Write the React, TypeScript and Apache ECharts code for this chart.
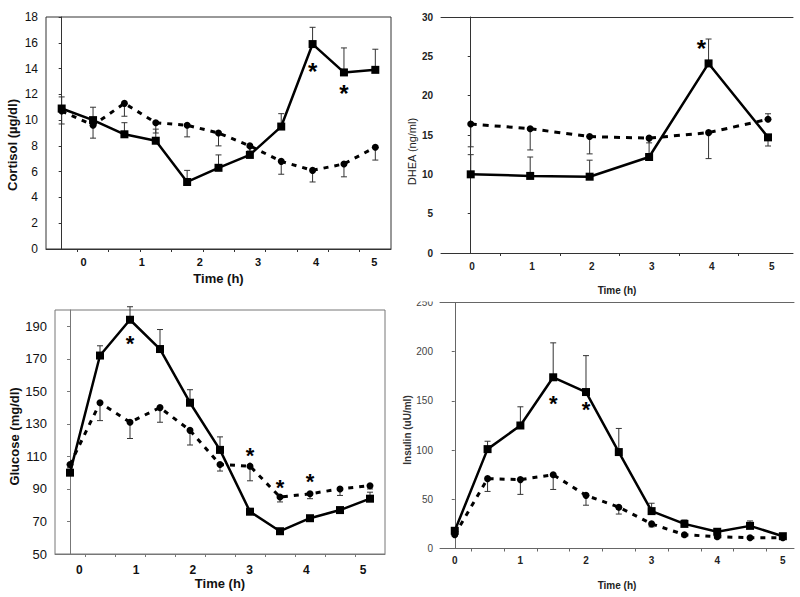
import React, { useEffect, useRef } from "react";
import * as echarts from "echarts";

// ---------- data ----------
const timeLabels = [0, 1, 2, 3, 4, 5];

// Cortisol (µg/dl), 11 samples
const cortisolSolid = [10.9, 10.0, 8.9, 8.4, 5.2, 6.3, 7.3, 9.5, 15.9, 13.7, 13.9];
const cortisolSolidErr = [11.8, 11.0, 9.8, 9.3, 6.1, 7.3, 7.9, 10.5, 17.2, 15.6, 15.5];
const cortisolDotted = [10.7, 9.6, 11.3, 9.8, 9.6, 9.0, 8.0, 6.8, 6.1, 6.6, 7.9];
const cortisolDottedErr = [9.7, 8.6, 10.3, 9.0, 8.7, 8.0, 7.6, 5.8, 5.2, 5.6, 6.9];
const cortisolStars = [[8, 14.2], [9, 12.5]];

// DHEA (ng/ml), 6 samples (hourly)
const dheaSolid = [10.0, 9.8, 9.7, 12.2, 24.1, 14.7];
const dheaSolidErr = [12.5, 12.2, 11.8, 14.4, 27.2, 13.6];
const dheaDotted = [16.4, 15.8, 14.8, 14.6, 15.3, 17.0];
const dheaDottedErr = [13.5, 13.1, 12.6, 14.0, 12.0, 17.7];
const dheaStars = [[3.88, 26.7]];

// Glucose (mg/dl), 11 samples
const glucoseSolid = [100, 172, 194, 176, 143, 114, 76, 64, 72, 77, 84];
const glucoseSolidErr = [101, 178, 202, 188, 151, 122, 78, 65, 73, 78, 88];
const glucoseDotted = [105, 143, 131, 140, 126, 105, 104, 85, 87, 90, 92];
const glucoseDottedErr = [103, 132, 121, 131, 117, 101, 95, 82, 84, 86, 90];
const glucoseStars = [[2, 183], [6, 114], [7, 94], [8, 98]];
const glucoseTicks = [50, 70, 90, 110, 130, 150, 170, 190];

// Insulin (uU/ml), 11 samples (every 0.5 h)
const insulinSolid = [18, 101, 125, 174, 159, 98, 38, 25, 17, 23, 12.5];
const insulinSolidErr = [20, 109, 144, 209, 196, 122, 46, 29, 20, 28, 14];
const insulinDotted = [14, 71, 70, 75, 54, 42, 25, 14, 12, 11, 11];
const insulinDottedErr = [13, 58, 55, 60, 44, 35, 22, 12, 10, 10, 10];
const insulinStars = [[3, 153], [4, 147]];

const FONT = "Liberation Sans, Arial, sans-serif";

type Panel = {
  grid: any;
  frame: "box" | "open";
  frameColor: string;
  dataRange: [number, number];
  hourRange: [number, number];
  yMin: number;
  yMax: number;
  yInterval?: number;
  yCustom?: number[];
  yName: string;
  yNameStyle: any;
  yNameGap: number;
  yLabel: any;
  xLabel: any;
  xNameStyle: any;
  xNameGap: number;
  solid: number[];
  solidErr: number[];
  dotted: number[];
  dottedErr: number[];
  stars: number[][];
  starSize: number;
  dash: number[];
};

const panels: Panel[] = [
  {
    grid: { left: 46, top: 17, width: 345, height: 232 },
    frame: "box",
    frameColor: "#333",
    dataRange: [-0.5, 10.5],
    hourRange: [-0.646, 5.287],
    yMin: 0,
    yMax: 18,
    yInterval: 2,
    yName: "Cortisol (µg/dl)",
    yNameStyle: { fontSize: 13, fontWeight: "bold", color: "#111", padding: [0, 24, 0, 0] },
    yNameGap: 27,
    yLabel: { fontSize: 12, color: "#111", margin: 8 },
    xLabel: { fontSize: 11, fontWeight: "bold", color: "#111", margin: 7 },
    xNameStyle: { fontSize: 13, fontWeight: "bold", color: "#111" },
    xNameGap: 23,
    solid: cortisolSolid,
    solidErr: cortisolSolidErr,
    dotted: cortisolDotted,
    dottedErr: cortisolDottedErr,
    stars: cortisolStars,
    starSize: 24,
    dash: [5, 6],
  },
  {
    grid: { left: 441, top: 17, width: 352, height: 236 },
    frame: "open",
    frameColor: "#333",
    dataRange: [-0.5, 5.42],
    hourRange: [-0.517, 5.355],
    yMin: 0,
    yMax: 30,
    yInterval: 5,
    yName: "DHEA (ng/ml)",
    yNameStyle: { fontSize: 11, color: "#222", padding: [0, 33, 0, 0] },
    yNameGap: 22,
    yLabel: { fontSize: 10, fontWeight: "bold", color: "#222", margin: 8 },
    xLabel: { fontSize: 10, fontWeight: "bold", color: "#222", margin: 8 },
    xNameStyle: { fontSize: 10, fontWeight: "bold", color: "#222" },
    xNameGap: 32,
    solid: dheaSolid,
    solidErr: dheaSolidErr,
    dotted: dheaDotted,
    dottedErr: dheaDottedErr,
    stars: dheaStars,
    starSize: 24,
    dash: [6, 6],
  },
  {
    grid: { left: 55, top: 310, width: 330, height: 244 },
    frame: "box",
    frameColor: "#777",
    dataRange: [-0.5, 10.5],
    hourRange: [-0.43, 5.385],
    yMin: 50,
    yMax: 200,
    yCustom: glucoseTicks,
    yName: "Glucose (mg/dl)",
    yNameStyle: { fontSize: 13, fontWeight: "bold", color: "#111", padding: [0, 9, 0, 0] },
    yNameGap: 33,
    yLabel: { fontSize: 13, color: "#111", margin: 8 },
    xLabel: { fontSize: 12, fontWeight: "bold", color: "#111", margin: 10 },
    xNameStyle: { fontSize: 13, fontWeight: "bold", color: "#111" },
    xNameGap: 23,
    solid: glucoseSolid,
    solidErr: glucoseSolidErr,
    dotted: glucoseDotted,
    dottedErr: glucoseDottedErr,
    stars: glucoseStars,
    starSize: 22,
    dash: [5, 6],
  },
  {
    grid: { left: 440, top: 302.5, width: 354, height: 246 },
    frame: "open",
    frameColor: "#666",
    dataRange: [-0.45, 10.34],
    hourRange: [-0.225, 5.17],
    yMin: 0,
    yMax: 250,
    yInterval: 50,
    yName: "Insulin (uU/ml)",
    yNameStyle: { fontSize: 10, fontWeight: "bold", color: "#333", padding: [0, 9, 0, 0] },
    yNameGap: 24,
    yLabel: { fontSize: 10, color: "#444", margin: 7 },
    xLabel: { fontSize: 10, fontWeight: "bold", color: "#222", margin: 7 },
    xNameStyle: { fontSize: 10, fontWeight: "bold", color: "#222" },
    xNameGap: 32,
    solid: insulinSolid,
    solidErr: insulinSolidErr,
    dotted: insulinDotted,
    dottedErr: insulinDottedErr,
    stars: insulinStars,
    starSize: 22,
    dash: [5, 6],
  },
];

const errorRender = (params: any, api: any) => {
  const x = api.value(0);
  const v = api.value(1);
  const c = api.value(2);
  const p1 = api.coord([x, v]);
  const p2 = api.coord([x, c]);
  const w = 3;
  const style = { stroke: "#333", lineWidth: 1 };
  return {
    type: "group",
    children: [
      { type: "line", shape: { x1: p1[0], y1: p1[1], x2: p2[0], y2: p2[1] }, style },
      { type: "line", shape: { x1: p2[0] - w, y1: p2[1], x2: p2[0] + w, y2: p2[1] }, style },
    ],
  };
};

function buildOption() {
  const grid: any[] = [];
  const xAxis: any[] = [];
  const yAxis: any[] = [];
  const series: any[] = [];

  panels.forEach((p, gi) => {
    grid.push({
      ...p.grid,
      show: p.frame === "box",
      borderColor: p.frameColor,
      borderWidth: 1,
      backgroundColor: "transparent",
      containLabel: false,
    });
    const n = p.solid.length;
    const boundaries = Array.from({ length: n - 1 }, (_, i) => i + 0.5);
    const dataAxisIndex = xAxis.length;
    xAxis.push({
      gridIndex: gi,
      type: "value",
      position: "bottom",
      min: p.dataRange[0],
      max: p.dataRange[1],
      axisLine: { show: true, lineStyle: { color: p.frameColor, width: 1 } },
      axisTick: { show: true, customValues: boundaries, length: 3, lineStyle: { color: p.frameColor } },
      axisLabel: { show: false },
      splitLine: { show: false },
    });
    xAxis.push({
      gridIndex: gi,
      type: "value",
      position: "bottom",
      min: p.hourRange[0],
      max: p.hourRange[1],
      axisLine: { show: false },
      axisTick: { show: false },
      axisLabel: { ...p.xLabel, fontFamily: FONT, customValues: timeLabels },
      splitLine: { show: false },
      name: "Time (h)",
      nameLocation: "middle",
      nameGap: p.xNameGap,
      nameTextStyle: { ...p.xNameStyle, fontFamily: FONT },
    });
    if (p.frame === "open") {
      xAxis.push({
        gridIndex: gi,
        type: "value",
        position: "top",
        min: 0,
        max: 1,
        axisLine: { show: true, lineStyle: { color: p.frameColor, width: 1 } },
        axisTick: { show: false },
        axisLabel: { show: false },
        splitLine: { show: false },
      });
    }
    const yIndex = yAxis.length;
    yAxis.push({
      gridIndex: gi,
      type: "value",
      min: p.yMin,
      max: p.yMax,
      interval: p.yInterval,
      axisLine: { show: true, lineStyle: { color: p.frameColor, width: 1 } },
      axisTick: {
        show: true,
        length: 3,
        lineStyle: { color: p.frameColor },
        ...(p.yCustom ? { customValues: p.yCustom } : {}),
      },
      axisLabel: {
        ...p.yLabel,
        fontFamily: FONT,
        ...(p.yCustom ? { customValues: p.yCustom } : {}),
      },
      splitLine: { show: false },
      name: p.yName,
      nameLocation: "middle",
      nameRotate: 90,
      nameGap: p.yNameGap,
      nameTextStyle: { ...p.yNameStyle, fontFamily: FONT },
    });

    const base = { xAxisIndex: dataAxisIndex, yAxisIndex: yIndex };
    series.push({
      ...base,
      type: "custom",
      renderItem: errorRender,
      z: 1,
      data: p.dotted.map((v, i) => [i, v, p.dottedErr[i]]),
    });
    series.push({
      ...base,
      type: "custom",
      renderItem: errorRender,
      z: 1,
      data: p.solid.map((v, i) => [i, v, p.solidErr[i]]),
    });
    series.push({
      ...base,
      type: "line",
      z: 2,
      symbol: "circle",
      symbolSize: 7,
      itemStyle: { color: "#000" },
      lineStyle: { color: "#000", width: 3, type: p.dash },
      data: p.dotted.map((v, i) => [i, v]),
    });
    series.push({
      ...base,
      type: "line",
      z: 3,
      symbol: "rect",
      symbolSize: 8,
      itemStyle: { color: "#000" },
      lineStyle: { color: "#000", width: 2.5 },
      data: p.solid.map((v, i) => [i, v]),
    });
    series.push({
      ...base,
      type: "scatter",
      z: 4,
      symbol: "circle",
      symbolSize: 1,
      itemStyle: { color: "rgba(255,255,255,0)", opacity: 1 },
      label: {
        show: true,
        position: "inside",
        formatter: "*",
        fontSize: p.starSize,
        fontWeight: "bold",
        fontFamily: FONT,
        color: "#000",
        opacity: 1,
        textBorderWidth: 0,
        offset: [0, p.starSize * 0.25],
      },
      data: p.stars,
    });
  });

  return {
    animation: false,
    backgroundColor: "#fff",
    grid,
    xAxis,
    yAxis,
    series,
    graphic: [
      {
        type: "rect",
        z: 100,
        shape: { x: 400, y: 288, width: 38, height: 13.5 },
        style: { fill: "#fff" },
      },
    ],
  };
}

export default function App() {
  const ref = useRef<HTMLDivElement>(null);
  useEffect(() => {
    if (!ref.current) return;
    const chart = echarts.init(ref.current, undefined, { renderer: "svg" });
    chart.setOption(buildOption() as any);
    return () => chart.dispose();
  }, []);
  return (
    <div
      ref={ref}
      style={{ position: "fixed", left: 0, top: 0, width: 800, height: 597, background: "#fff" }}
    />
  );
}
